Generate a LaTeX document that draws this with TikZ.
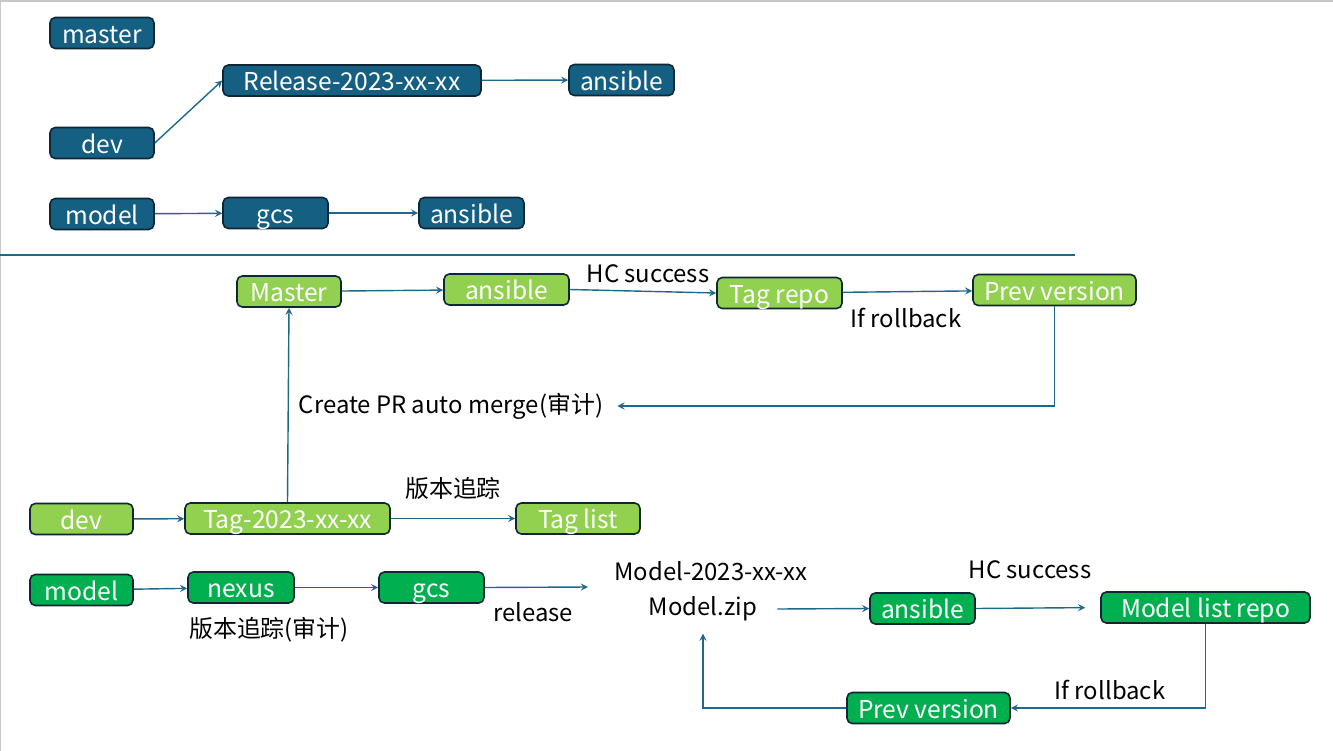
\documentclass[tikz,border=0pt]{standalone}
\usepackage{fontspec}
\setmainfont{Noto Sans CJK SC}

\definecolor{bluefill}{RGB}{21,96,130}
\definecolor{boxedge}{RGB}{14,38,54}
\definecolor{limefill}{RGB}{146,208,80}
\definecolor{greenfill}{RGB}{0,176,80}
\definecolor{flow}{RGB}{30,104,140}
\definecolor{frame}{RGB}{200,200,200}

\tikzset{
  box/.style={draw=boxedge, line width=0.9pt, rounded corners=3pt, text=white,
    minimum height=0.62cm, inner sep=0pt, text height=11.5pt, text depth=0pt,
    font=\fontsize{14}{16}\selectfont},
  bluebox/.style={box, fill=bluefill},
  limebox/.style={box, fill=limefill},
  greenbox/.style={box, fill=greenfill},
  lbl/.style={font=\fontsize{13.6}{16}\selectfont, inner sep=0pt},
  flowline/.style={->, >=stealth, draw=flow, line width=0.8pt},
}

\begin{document}
\begin{tikzpicture}[x=0.02cm, y=-0.02cm]
  \useasboundingbox (0,0) rectangle (1333,751);
  \draw [frame, line width=1pt] (0,751) -- (0,1) -- (1333,1);

  % branches before
  \node [bluebox, minimum width=2.08cm] (master) at (102,33) {master};
  \node [bluebox, minimum width=2.08cm] (dev) at (102,143) {dev};
  \node [bluebox, minimum width=2.08cm] (model) at (102,214) {model};
  \node [bluebox, minimum width=5.16cm] (release) at (352,80.5) {Release-2023-xx-xx};
  \node [bluebox, minimum width=2.1cm] (ansibleA) at (621.5,80) {ansible};
  \node [bluebox, minimum width=2.1cm] (gcs) at (275.5,213) {gcs};
  \node [bluebox, minimum width=2.1cm] (ansibleB) at (471.5,213) {ansible};
  \draw [flowline] (dev.east) -- (release.west);
  \draw [flowline] (release) -- (ansibleA);
  \draw [flowline] (model) -- (gcs);
  \draw [flowline] (gcs) -- (ansibleB);

  \draw [flow, line width=1.2pt] (0,255) -- (1075,255);

  % code flow
  \node [limebox, minimum width=2.08cm] (masterB) at (289,291.5) {Master};
  \node [limebox, minimum width=2.5cm] (ansibleC) at (506.5,289.5) {ansible};
  \node [limebox, minimum width=2.5cm] (tagrepo) at (779.5,293) {Tag repo};
  \node [limebox, minimum width=3.26cm] (prevA) at (1054.5,290) {Prev version};
  \node [limebox, minimum width=2.06cm] (devB) at (81.5,519) {dev};
  \node [limebox, minimum width=4.1cm] (tag) at (287.5,518.5) {Tag-2023-xx-xx};
  \node [limebox, minimum width=2.48cm] (taglist) at (578,518.5) {Tag list};
  \node [lbl] (hcA) at (648,274) {HC success};
  \node [lbl] (rollA) at (906,318) {If rollback};
  \node [lbl] (pr) at (451,406) {Create PR auto merge(审计)};
  \node [lbl] (track) at (453,488) {版本追踪};
  \draw [flowline] (masterB) -- (ansibleC);
  \draw [flowline] (ansibleC.east) -- (tagrepo.west);
  \draw [flowline] (tagrepo) -- (prevA);
  \draw [flowline] (prevA.south) |- ([xshift=0.28cm]pr.east);
  \draw [flowline] (devB) -- (tag);
  \draw [flowline] (tag) -- (taglist);
  \draw [flowline] (tag.north) -- (masterB.south);

  % model flow
  \node [greenbox, minimum width=2.06cm] (modelB) at (81.5,590) {model};
  \node [greenbox, minimum width=2.12cm] (nexus) at (241,587.5) {nexus};
  \node [greenbox, minimum width=2.1cm] (gcsB) at (431.5,587.5) {gcs};
  \node [greenbox, minimum width=2.1cm] (ansibleD) at (922.5,608.5) {ansible};
  \node [greenbox, minimum width=4.18cm] (modellist) at (1205.5,607.5) {Model list repo};
  \node [greenbox, minimum width=3.26cm] (prevB) at (928.5,708) {Prev version};
  \node [lbl] (audit) at (269,630) {版本追踪(审计)};
  \node [lbl] (rel) at (533,612) {release};
  \node [lbl] (modelver) at (711,571) {Model-2023-xx-xx};
  \node [lbl] (zip) at (703,609) {Model.zip};
  \node [lbl] (hcB) at (1030,570) {HC success};
  \node [lbl] (rollB) at (1110,690) {If rollback};
  \coordinate (relend) at (588,587);
  \draw [flowline] (modelB) -- (nexus);
  \draw [flowline] (nexus) -- (gcsB);
  \draw [flowline] (gcsB.east) -- (relend);
  \draw [flowline] ([xshift=0.4cm]zip.east) -- (ansibleD.west);
  \draw [flowline, shorten >=0.3cm] (ansibleD.east) -- (modellist.west);
  \draw [flowline] (modellist.south) |- (prevB.east);
  \draw [flowline, shorten >=0.24cm] (prevB.west) -| (zip.south);
\end{tikzpicture}
\end{document}
